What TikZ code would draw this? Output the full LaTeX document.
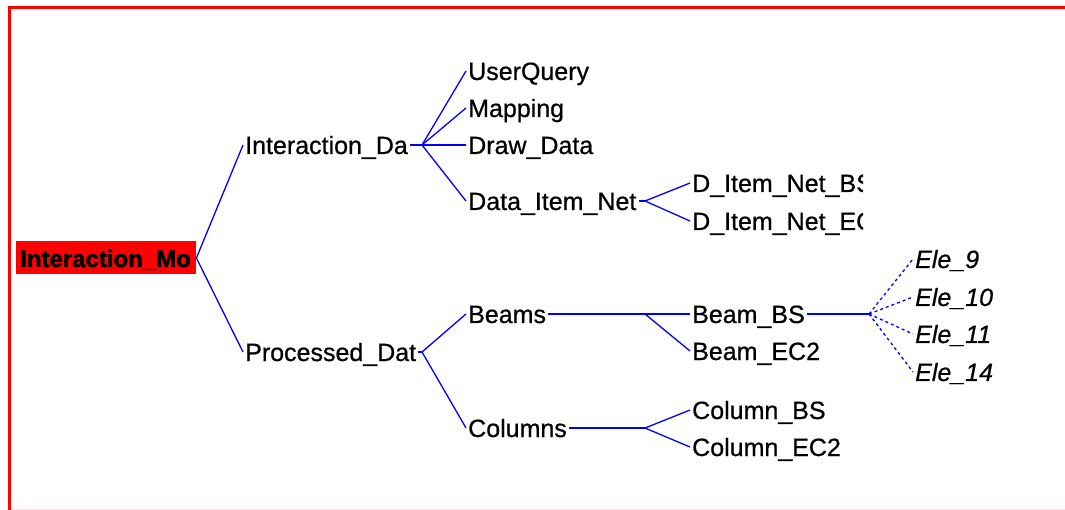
\documentclass[tikz,border=0pt]{standalone}
\usepackage{fontspec}
\setmainfont{Liberation Sans}
\newfontfamily\labelfont[FakeBold=0.7]{Liberation Sans}
\newfontfamily\heavyfont[FakeBold=1.8]{Liberation Sans Bold}
\usetikzlibrary{positioning}

\begin{document}
\begin{tikzpicture}[
x=1pt, y=-1pt,
item/.style={anchor=west, inner xsep=2pt, inner ysep=0pt, text height=20pt, text depth=2pt, font=\labelfont\fontsize{25}{30}\selectfont},
leaf/.style={item, font=\labelfont\fontsize{25}{30}\selectfont\itshape},
rootbox/.style={fill=red, anchor=west, inner xsep=4pt, inner ysep=0pt, text width=172pt, align=left, minimum height=33pt, text height=20pt, text depth=2pt, font=\heavyfont\fontsize{24}{30}\selectfont},
link/.style={blue, line width=1.3pt},
dotlink/.style={link, dash pattern=on 3pt off 3pt}
]

\useasboundingbox (0,0) rectangle (1065,510);

% ---------- FRAME ----------

\draw[red, line width=3pt] (9.5,510) -- (9.5,7.5) -- (1065,7.5);
\draw[red!12, line width=1pt] (11,509) -- (1065,509);

% ---------- ROOT ----------

\begin{scope}
\clip (16,242) rectangle (196,275);
\node[rootbox] (model) at (16,258) {Interaction\_Mo};
\end{scope}

% ---------- FIRST LEVEL ----------

\node[item] (idata) at (243,145) {Interaction\_Da};
\node[item] (pdata) at (243,352) {Processed\_Dat};

% ---------- INTERACTION DATA ----------

\node[item] (query) at (466,71) {UserQuery};
\node[item] (mapping) at (466,108) {Mapping};
\node[item] (drawdata) at (466,145) {Draw\_Data};
\node[item] (itemnet) at (466,201) {Data\_Item\_Net};

\begin{scope}
\clip (680,160) rectangle (863,240);
\node[item] (netbs) at (690,183) {D\_Item\_Net\_BS};
\node[item] (netec) at (690,221) {D\_Item\_Net\_EC};
\end{scope}

% ---------- PROCESSED DATA ----------

\node[item] (beams) at (466,314) {Beams};
\node[item] (columns) at (466,428) {Columns};

\node[item] (beambs) at (690,314) {Beam\_BS};
\node[item] (beamec) at (690,351) {Beam\_EC2};
\node[item] (colbs) at (690,410) {Column\_BS};
\node[item] (colec) at (690,447) {Column\_EC2};

\node[leaf] (ele9) at (913,259) {Ele\_9};
\node[leaf] (ele10) at (913,297) {Ele\_10};
\node[leaf] (ele11) at (913,334) {Ele\_11};
\node[leaf] (ele14) at (913,372) {Ele\_14};

% ---------- FORK POINTS ----------

\coordinate (idfork) at ([xshift=179pt]idata.west);
\coordinate (pdfork) at ([xshift=179pt]pdata.west);
\coordinate (netfork) at ([xshift=179pt]itemnet.west);
\coordinate (beamfork) at ([xshift=179pt]beams.west);
\coordinate (colfork) at ([xshift=179pt]columns.west);
\coordinate (bsfork) at ([xshift=179pt]beambs.west);

% ---------- LINKS ----------

\draw[link] (model.east) -- (idata.west);
\draw[link] (model.east) -- (pdata.west);

\draw[link] (idata) -- (idfork);
\draw[link] (idfork) -- (query.west);
\draw[link] (idfork) -- (mapping.west);
\draw[link] (idfork) -- (drawdata.west);
\draw[link] (idfork) -- (itemnet.west);

\draw[link] (itemnet) -- (netfork);
\draw[link] (netfork) -- (netbs.west);
\draw[link] (netfork) -- (netec.west);

\draw[link] (pdata) -- (pdfork);
\draw[link] (pdfork) -- (beams.west);
\draw[link] (pdfork) -- (columns.west);

\draw[link] (beams) -- (beamfork);
\draw[link] (beamfork) -- (beambs.west);
\draw[link] (beamfork) -- (beamec.west);

\draw[link] (columns) -- (colfork);
\draw[link] (colfork) -- (colbs.west);
\draw[link] (colfork) -- (colec.west);

\draw[link] (beambs) -- (bsfork);
\draw[dotlink] (bsfork) -- (ele9.west);
\draw[dotlink] (bsfork) -- (ele10.west);
\draw[dotlink] (bsfork) -- (ele11.west);
\draw[dotlink] (bsfork) -- (ele14.west);

\end{tikzpicture}
\end{document}
